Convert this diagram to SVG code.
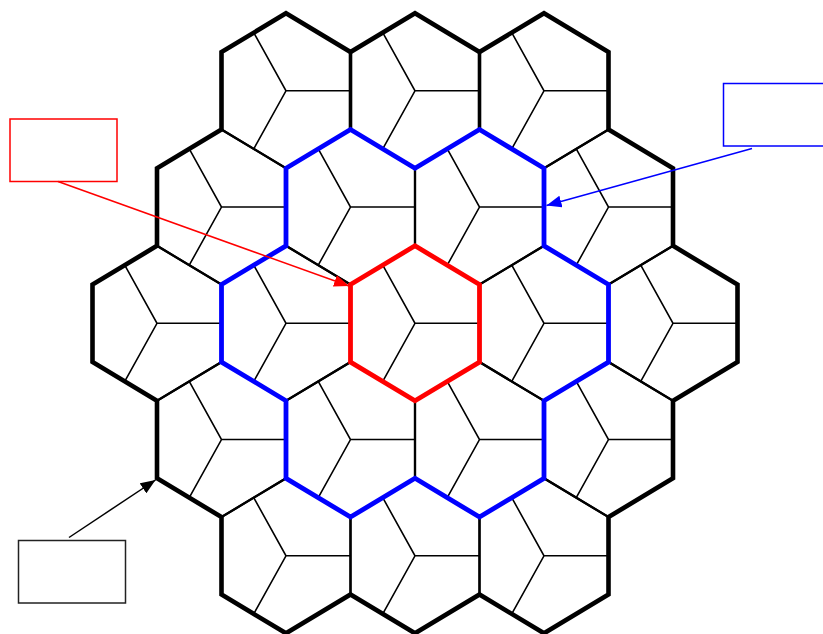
<svg xmlns="http://www.w3.org/2000/svg" xmlns:xlink="http://www.w3.org/1999/xlink" width="823" height="634" viewBox="0 0 823 634">
<style>
.edge{fill:none;stroke:#000;stroke-width:2.2;stroke-linejoin:miter}
.div{fill:none;stroke:#000;stroke-width:1.6}
.outer{fill:none;stroke:#000;stroke-width:4.6;stroke-linejoin:miter}
.ring{fill:none;stroke:#0000ff;stroke-width:4.8;stroke-linejoin:miter}
.core{fill:none;stroke:#ff0000;stroke-width:4.8;stroke-linejoin:miter}
.box{fill:#fff;stroke-width:1.5}
</style>
<defs>
<g id="cell">
<polygon class="edge" points="0,-77.5 64.5,-38.75 64.5,38.75 0,77.5 -64.5,38.75 -64.5,-38.75"/>
<path class="div" d="M-32.25,-58.125 L0,0 L-32.25,58.125 M0,0 L64.5,0"/>
</g>
<marker id="ahRed" markerUnits="userSpaceOnUse" markerWidth="16" markerHeight="12" refX="15" refY="6" orient="auto"><path d="M0,0 L15,6 L0,12 Z" fill="#ff0000"/></marker>
<marker id="ahBlue" markerUnits="userSpaceOnUse" markerWidth="16" markerHeight="12" refX="15" refY="6" orient="auto"><path d="M0,0 L15,6 L0,12 Z" fill="#0000ff"/></marker>
<marker id="ahBlack" markerUnits="userSpaceOnUse" markerWidth="16" markerHeight="12" refX="15" refY="6" orient="auto"><path d="M0,0 L15,6 L0,12 Z" fill="#000"/></marker>
</defs>
<rect width="823" height="634" fill="#fff"/>
<g id="cells">
<g id="hex-0-0" transform="translate(286,90.8)"><use xlink:href="#cell"/></g>
<g id="hex-0-1" transform="translate(415,90.8)"><use xlink:href="#cell"/></g>
<g id="hex-0-2" transform="translate(544,90.8)"><use xlink:href="#cell"/></g>
<g id="hex-1-0" transform="translate(221.5,207.05)"><use xlink:href="#cell"/></g>
<g id="hex-1-1" transform="translate(350.5,207.05)"><use xlink:href="#cell"/></g>
<g id="hex-1-2" transform="translate(479.5,207.05)"><use xlink:href="#cell"/></g>
<g id="hex-1-3" transform="translate(608.5,207.05)"><use xlink:href="#cell"/></g>
<g id="hex-2-0" transform="translate(157,323.3)"><use xlink:href="#cell"/></g>
<g id="hex-2-1" transform="translate(286,323.3)"><use xlink:href="#cell"/></g>
<g id="hex-2-2" transform="translate(415,323.3)"><use xlink:href="#cell"/></g>
<g id="hex-2-3" transform="translate(544,323.3)"><use xlink:href="#cell"/></g>
<g id="hex-2-4" transform="translate(673,323.3)"><use xlink:href="#cell"/></g>
<g id="hex-3-0" transform="translate(221.5,439.55)"><use xlink:href="#cell"/></g>
<g id="hex-3-1" transform="translate(350.5,439.55)"><use xlink:href="#cell"/></g>
<g id="hex-3-2" transform="translate(479.5,439.55)"><use xlink:href="#cell"/></g>
<g id="hex-3-3" transform="translate(608.5,439.55)"><use xlink:href="#cell"/></g>
<g id="hex-4-0" transform="translate(286,555.8)"><use xlink:href="#cell"/></g>
<g id="hex-4-1" transform="translate(415,555.8)"><use xlink:href="#cell"/></g>
<g id="hex-4-2" transform="translate(544,555.8)"><use xlink:href="#cell"/></g>
</g>
<g id="outlines">
<path id="outer-boundary" class="outer" d="M286,13.3 L350.5,52.05 L415,13.3 L479.5,52.05 L544,13.3 L608.5,52.05 L608.5,129.55 L673,168.3 L673,245.8 L737.5,284.55 L737.5,362.05 L673,400.8 L673,478.3 L608.5,517.05 L608.5,594.55 L544,633.3 L479.5,594.55 L415,633.3 L350.5,594.55 L286,633.3 L221.5,594.55 L221.5,517.05 L157,478.3 L157,400.8 L92.5,362.05 L92.5,284.55 L157,245.8 L157,168.3 L221.5,129.55 L221.5,52.05 Z"/>
<path id="top-verticals" fill="none" stroke="#000" stroke-width="3.6" d="M350.5,52.05 L350.5,129.55 M479.5,52.05 L479.5,129.55"/>
<path id="blue-ring" class="ring" d="M350.5,129.55 L415,168.3 L479.5,129.55 L544,168.3 L544,245.8 L608.5,284.55 L608.5,362.05 L544,400.8 L544,478.3 L479.5,517.05 L415,478.3 L350.5,517.05 L286,478.3 L286,400.8 L221.5,362.05 L221.5,284.55 L286,245.8 L286,168.3 Z"/>
<path id="red-core" class="core" d="M415,245.8 L479.5,284.55 L479.5,362.05 L415,400.8 L350.5,362.05 L350.5,284.55 Z"/>
</g>
<g id="label-red"><rect class="box" x="10" y="119" width="107" height="62.5" stroke="#ff0000"/></g>
<g id="label-blue"><rect class="box" x="723.5" y="83.5" width="120" height="62.5" stroke="#0000ff"/></g>
<g id="label-black"><rect class="box" x="18.5" y="540.5" width="107" height="62.5" stroke="#222"/></g>
<g id="connectors">
<line x1="58" y1="181.5" x2="349" y2="286" stroke="#ff0000" stroke-width="1.5" marker-end="url(#ahRed)"/>
<line x1="752" y1="148.5" x2="546.5" y2="205.5" stroke="#0000ff" stroke-width="1.5" marker-end="url(#ahBlue)"/>
<line x1="69" y1="537.5" x2="155.5" y2="480" stroke="#000" stroke-width="1.5" marker-end="url(#ahBlack)"/>
</g>
</svg>
